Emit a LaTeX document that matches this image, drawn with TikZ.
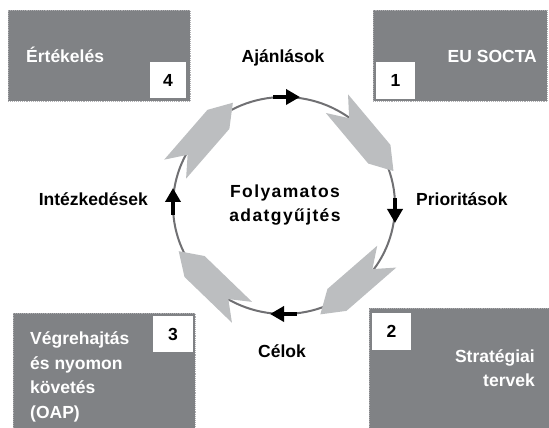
\documentclass[tikz,border=0pt]{standalone}
\usepackage{fontspec}
\setmainfont{Liberation Sans}
\usetikzlibrary{arrows.meta}
\definecolor{boxgray}{RGB}{128,130,133}
\definecolor{chevgray}{RGB}{188,190,192}
\definecolor{ringgray}{RGB}{112,112,115}
\definecolor{edgegray}{RGB}{175,175,178}
\begin{document}
\begin{tikzpicture}[x=1pt,y=1pt,
  panel/.style={fill=boxgray, draw=edgegray, densely dotted, line width=0.9pt, inner sep=0pt, anchor=north west},
  numbox/.style={fill=white, draw=none, inner sep=0pt, font=\fontsize{17.5}{20}\selectfont\bfseries},
  paneltext/.style={text=white, inner sep=0pt, font=\fontsize{17.5}{24.5}\selectfont\bfseries},
  label/.style={inner sep=0pt, font=\fontsize{17.5}{20}\selectfont\bfseries},
  flow/.style={line width=4pt, -{Triangle[length=14pt,width=15pt]}},
  chevron/.style={fill=chevgray}
]
\useasboundingbox (0,0) rectangle (549,428);
% panels
\node[panel, minimum width=182, minimum height=91] (p4) at (8,418) {};
\node[panel, minimum width=174, minimum height=91] (p1) at (373,418) {};
\node[panel, minimum width=182, minimum height=125] (p3) at (13,115) {};
\node[panel, minimum width=181, minimum height=130] (p2) at (369,120) {};
% number boxes
\node[numbox, minimum width=36, minimum height=36] (n4) at (168,348) {4};
\node[numbox, minimum width=39, minimum height=37] (n1) at (395.5,347.5) {1};
\node[numbox, minimum width=40, minimum height=36] (n3) at (173,94) {3};
\node[numbox, minimum width=39, minimum height=37] (n2) at (391.5,96.5) {2};
% panel texts
\node[paneltext, anchor=base west] (t4) at (26,365) {Értékelés};
\node[paneltext, anchor=base east] (t1) at (537,365) {EU SOCTA};
\node[paneltext, anchor=base west, align=left] (t3) at (30,9.5) {Végrehajtás\\és nyomon\\követés\\(OAP)};
\node[paneltext, anchor=base east, align=right] (t2) at (535,41) {Stratégiai\\tervek};
% ring
\coordinate (c) at (284,222.5);
\draw[ringgray, line width=2pt] (c) ellipse [x radius=111, y radius=108.5];
% chevrons
\foreach \a/\nm in {40/chTR,139/chTL,-49/chBR,-134/chBL}{
  \fill[chevron, shift={(284,222.5)}, rotate=\a]
    (120.5,44) -- (106,25) -- (91.5,44) -- (91.5,-22) -- (106,-44) -- (120.5,-22) -- cycle;
}
% flow arrows
\coordinate (aT0) at (273,331); \coordinate (aT1) at (300,331);
\coordinate (aR0) at (395,230); \coordinate (aR1) at (395,205);
\coordinate (aB0) at (297,114); \coordinate (aB1) at (270,114);
\coordinate (aL0) at (173,213); \coordinate (aL1) at (173,240);
\draw[flow] (aT0) -- (aT1);
\draw[flow] (aR0) -- (aR1);
\draw[flow] (aB0) -- (aB1);
\draw[flow] (aL0) -- (aL1);
% labels
\node[label, anchor=base] (ajan) at (283,365) {Ajánlások};
\node[label, anchor=base west] (prio) at (416,222) {Prioritások};
\node[label, anchor=base east] (intez) at (148,222) {Intézkedések};
\node[label, anchor=base] (celok) at (282,70) {Célok};
\node[label, align=center, font=\fontsize{17.5}{23.5}\selectfont\bfseries\addfontfeature{LetterSpace=8}] (center) at (285,223) {Folyamatos\\adatgyűjtés};
\end{tikzpicture}
\end{document}
